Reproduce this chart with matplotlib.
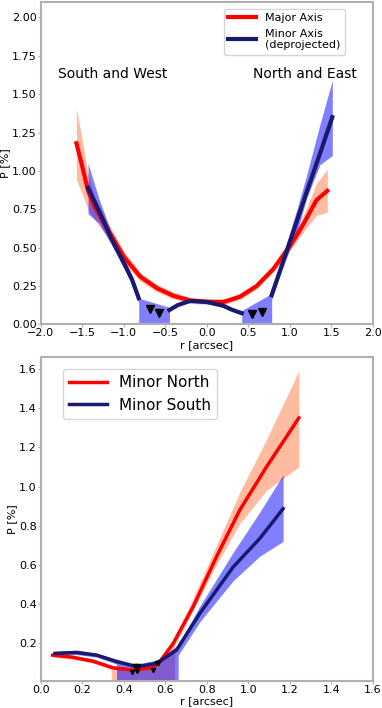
import numpy as np
import matplotlib
matplotlib.use('Agg')
import matplotlib.pyplot as plt

# --- top panel: major vs minor axis profiles ---
maj_r = [-1.57, -1.5, -1.43, -1.35, -1.21, -1.0, -0.8, -0.6, -0.4, -0.2, 0.0,
         0.2, 0.4, 0.6, 0.8, 1.0, 1.12, 1.2, 1.32, 1.45]
maj_p = [1.18, 1.03, 0.87, 0.765, 0.635, 0.44, 0.31, 0.235, 0.185, 0.155, 0.147,
         0.145, 0.18, 0.25, 0.36, 0.51, 0.613, 0.69, 0.81, 0.87]
maj_hi = [1.41, 1.2, 0.98, 0.83, 0.68, 0.48, 0.335, 0.26, 0.21, 0.175, 0.165,
          0.165, 0.2, 0.27, 0.39, 0.55, 0.66, 0.76, 0.92, 1.01]
maj_lo = [0.94, 0.85, 0.75, 0.68, 0.58, 0.40, 0.28, 0.21, 0.165, 0.135, 0.13,
          0.125, 0.16, 0.23, 0.34, 0.48, 0.57, 0.63, 0.71, 0.73]

# minor axis (deprojected), three detected segments
minL_r = [-1.43, -1.3, -1.15, -1.0, -0.9, -0.82]
minL_p = [0.89, 0.74, 0.56, 0.40, 0.29, 0.17]
minL_hi = [1.05, 0.82, 0.60, 0.43, 0.32, 0.20]
minL_lo = [0.72, 0.66, 0.52, 0.37, 0.26, 0.14]

minM_r = [-0.45, -0.35, -0.2, 0.0, 0.2, 0.3, 0.42]
minM_p = [0.093, 0.125, 0.152, 0.145, 0.12, 0.095, 0.072]

minR_r = [0.78, 0.9, 1.0, 1.1, 1.2, 1.36, 1.51]
minR_p = [0.19, 0.38, 0.54, 0.70, 0.86, 1.11, 1.35]
minR_hi = [0.22, 0.42, 0.60, 0.78, 0.97, 1.30, 1.59]
minR_lo = [0.16, 0.35, 0.49, 0.63, 0.82, 1.04, 1.10]

# upper-limit regions (band down to zero)
limL_r = [-0.82, -0.45]
limL_hi = [0.17, 0.11]
limR_r = [0.42, 0.78]
limR_hi = [0.09, 0.20]

lim_top_r = [-0.69, -0.57, 0.54, 0.66]
lim_top_p = [0.10, 0.075, 0.07, 0.08]

# --- bottom panel: minor north vs south ---
north_r = [0.058, 0.15, 0.25, 0.35, 0.446, 0.54, 0.574, 0.638, 0.734, 0.846, 0.958, 1.087, 1.243]
north_p = [0.14, 0.13, 0.11, 0.075, 0.064, 0.076, 0.107, 0.2, 0.387, 0.641, 0.879, 1.1, 1.35]
nb_r = [0.058, 0.15, 0.25, 0.34, 0.34, 0.446, 0.54, 0.574, 0.645, 0.645, 0.734, 0.846, 0.958, 1.087, 1.243]
nb_hi = [0.15, 0.14, 0.12, 0.085, 0.085, 0.075, 0.09, 0.12, 0.23, 0.23, 0.43, 0.70, 0.97, 1.24, 1.59]
nb_lo = [0.13, 0.12, 0.10, 0.068, 0, 0, 0, 0, 0, 0.19, 0.37, 0.60, 0.81, 0.98, 1.10]

south_r = [0.069, 0.173, 0.27, 0.366, 0.462, 0.558, 0.654, 0.766, 0.927, 1.055, 1.167]
south_p = [0.149, 0.154, 0.14, 0.107, 0.081, 0.098, 0.166, 0.353, 0.59, 0.735, 0.887]
sb_r = [0.069, 0.173, 0.27, 0.365, 0.365, 0.462, 0.558, 0.662, 0.662, 0.766, 0.927, 1.055, 1.167]
sb_hi = [0.16, 0.165, 0.15, 0.12, 0.12, 0.095, 0.115, 0.19, 0.19, 0.39, 0.665, 0.87, 1.06]
sb_lo = [0.14, 0.143, 0.13, 0.095, 0, 0, 0, 0, 0.14, 0.31, 0.52, 0.645, 0.72]

lim_n_r = [0.44, 0.465, 0.54, 0.565]
lim_n_p = [0.055, 0.058, 0.063, 0.10]
lim_s_r = [0.455, 0.47, 0.56]
lim_s_p = [0.085, 0.085, 0.10]

RED = 'red'
NAVY = 'midnightblue'
SALMON = 'lightsalmon'


def style_axes(ax):
    for s in ax.spines.values():
        s.set_color('#b0b0b0')
        s.set_linewidth(1.5)
    ax.tick_params(length=2, color='#b0b0b0', labelsize=8, pad=1)


fig = plt.figure(figsize=(3.82, 7.08), dpi=100)
ax1 = fig.add_axes([0.1065, 0.542, 0.87, 0.455])
ax2 = fig.add_axes([0.1065, 0.0386, 0.87, 0.457])

# top
ax1.fill_between(maj_r, maj_lo, maj_hi, color=SALMON, alpha=0.7, lw=0)
ax1.fill_between(minL_r, minL_lo, minL_hi, color='blue', alpha=0.5, lw=0)
ax1.fill_between(minR_r, minR_lo, minR_hi, color='blue', alpha=0.5, lw=0)
ax1.fill_between(limL_r, 0, limL_hi, color='blue', alpha=0.5, lw=0)
ax1.fill_between(limR_r, 0, limR_hi, color='blue', alpha=0.5, lw=0)
ax1.plot(maj_r, maj_p, color=RED, lw=3, label='Major Axis')
ax1.plot(minL_r, minL_p, color=NAVY, lw=3, label='Minor Axis\n(deprojected)')
ax1.plot(minM_r, minM_p, color=NAVY, lw=3)
ax1.plot(minR_r, minR_p, color=NAVY, lw=3)
ax1.plot(lim_top_r, lim_top_p, 'v', color='black', ms=6, ls='none')
ax1.text(-1.79, 1.63, 'South and West', fontsize=10, ha='left', va='center')
ax1.text(1.81, 1.63, 'North and East', fontsize=10, ha='right', va='center')
ax1.set_xlim(-2, 2)
ax1.set_ylim(0, 2.1)
ax1.set_yticks(np.arange(0, 2.01, 0.25))
ax1.yaxis.set_major_formatter(matplotlib.ticker.FormatStrFormatter('%.2f'))
ax1.set_xlabel('r [arcsec]', fontsize=8, labelpad=1)
ax1.set_ylabel('P [%]', fontsize=8, labelpad=1)
ax1.legend(loc='upper right', bbox_to_anchor=(0.915, 0.98), borderaxespad=0,
           fontsize=8, handlelength=2.5)
style_axes(ax1)

# bottom
ax2.fill_between(nb_r, nb_lo, nb_hi, color=SALMON, alpha=0.7, lw=0)
ax2.fill_between(sb_r, sb_lo, sb_hi, color='blue', alpha=0.5, lw=0)
ax2.plot(north_r, north_p, color=RED, lw=2.5, label='Minor North')
ax2.plot(south_r, south_p, color=NAVY, lw=2.5, label='Minor South')
ax2.plot(lim_n_r, lim_n_p, 'v', color='black', ms=3, ls='none')
ax2.plot(lim_s_r, lim_s_p, 'v', color='black', ms=3, ls='none')
ax2.set_xlim(0, 1.6)
ax2.set_ylim(0.01, 1.66)
ax2.set_yticks(np.arange(0.2, 1.61, 0.2))
ax2.set_xlabel('r [arcsec]', fontsize=8, labelpad=1)
ax2.set_ylabel('P [%]', fontsize=8, labelpad=1)
ax2.legend(loc='upper left', bbox_to_anchor=(0.066, 0.964), borderaxespad=0,
           fontsize=11, handlelength=2.5)
style_axes(ax2)

fig.savefig('out.png', dpi=100)
